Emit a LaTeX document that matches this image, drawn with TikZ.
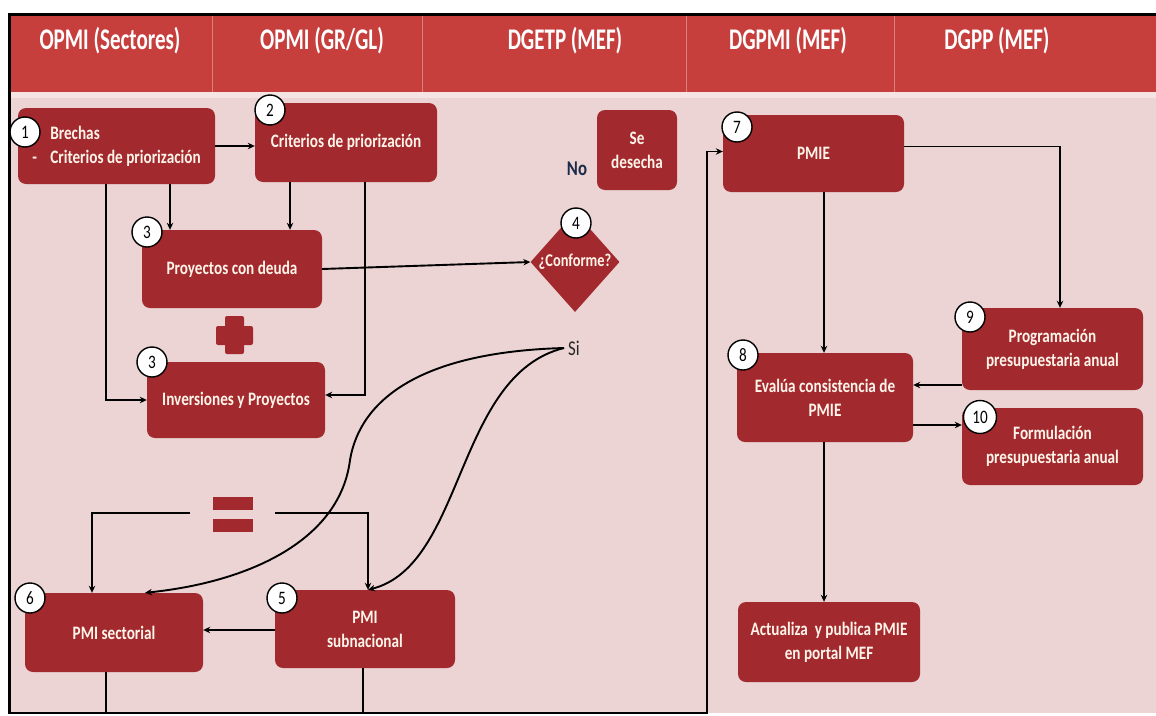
\documentclass[tikz,border=0pt]{standalone}
\usepackage{fontspec}
\setmainfont{Carlito}[FakeStretch=0.8]
\newfontfamily\hdrfont{Carlito}[FakeStretch=0.7]
\usetikzlibrary{arrows.meta,shapes.geometric,calc}
\definecolor{hdr}{HTML}{C63F3D}
\definecolor{hdrline}{HTML}{D8807C}
\definecolor{bg}{HTML}{ECD4D5}
\definecolor{boxred}{HTML}{A2292D}
\definecolor{txt}{HTML}{FFF4EA}
\definecolor{strip}{HTML}{F4E4E4}
\definecolor{nolbl}{HTML}{1E2B48}
\begin{document}
\begin{tikzpicture}[x=1pt,y=-1pt,
 stepbox/.style={fill=boxred, rounded corners=8pt, text=txt, font=\bfseries\fontsize{19}{24}\selectfont, align=center, inner sep=0pt},
 num/.style={circle, draw=black, line width=1.4pt, fill=white, minimum size=30pt, inner sep=0pt, font=\fontsize{19}{19}\selectfont},
 conn/.style={line width=1.9pt, draw=black},
 arr/.style={conn, -{Stealth[length=7pt,width=6.5pt]}},
 hdrtxt/.style={text=white, font=\hdrfont\bfseries\fontsize{30}{30}\selectfont, inner sep=0pt},
]
\useasboundingbox (0,0) rectangle (1156,715);
\fill[white] (0,0) rectangle (1156,715);
\fill[hdr] (10,15) rectangle (1156,92);
\fill[strip] (10,92) rectangle (1156,98);
\fill[bg] (10,98) rectangle (1156,713);
\foreach \x in {212,422,686,894} \draw[hdrline, line width=1pt] (\x,16) -- (\x,92);
\draw[line width=3.5pt] (1156,14.5) -- (9.5,14.5) -- (9.5,713);
\draw[line width=2pt] (8,713) -- (106,713);

% header
\node[hdrtxt] (h1) at (110,41) {OPMI (Sectores)};
\node[hdrtxt] (h2) at (322,41) {OPMI (GR/GL)};
\node[hdrtxt] (h3) at (565,41) {DGETP (MEF)};
\node[hdrtxt] (h4) at (788,41) {DGPMI (MEF)};
\node[hdrtxt] (h5) at (997,41) {DGPP (MEF)};

% coordinates for connector columns/rows
\coordinate (xA) at (106,0);
\coordinate (xB) at (170,0);
\coordinate (xC) at (290,0);
\coordinate (xD) at (365,0);
\coordinate (xE) at (1060,0);
\coordinate (xF) at (824,0);
\coordinate (xJ) at (92,0);
\coordinate (xK) at (368,0);
\coordinate (xL) at (363,0);
\coordinate (yG) at (0,385);
\coordinate (yH) at (0,425);
\coordinate (yI) at (0,630);
\coordinate (yT) at (0,146);
\coordinate (bot) at (707,713);
\coordinate (eqL) at (190,513);
\coordinate (eqR) at (275,513);

% boxes
\node[stepbox, align=left, minimum width=197pt, minimum height=76pt] (n1) at (116.5,146)
  {\hspace*{18pt}Brechas\\\makebox[18pt][l]{-}Criterios de priorización};
\node[stepbox, minimum width=182pt, minimum height=79pt] (n2) at (346,142.5) {Criterios de priorización};
\node[stepbox, minimum width=180pt, minimum height=78pt] (n3a) at (232,269) {Proyectos con deuda};
\node[stepbox, minimum width=178pt, minimum height=76pt] (n3b) at (236,400) {Inversiones y Proyectos};
\node[stepbox, minimum width=80pt, minimum height=80pt] (nd) at (637,150) {Se\\desecha};
\node[diamond, fill=boxred, minimum width=89pt, minimum height=100pt, inner sep=0pt] (d4) at (575,262) {};
\node[text=txt, font=\bfseries\fontsize{18}{18}\selectfont, inner sep=0pt] (d4t) at (d4.center) {¿Conforme?};
\node[stepbox, minimum width=181pt, minimum height=77pt] (n7) at (813.5,153.5) {PMIE};
\node[stepbox, minimum width=176pt, minimum height=89pt] (n8) at (825,397.5) {Evalúa consistencia de\\PMIE};
\node[stepbox, minimum width=181pt, minimum height=82pt] (n9) at (1052.5,349) {Programación\\presupuestaria anual};
\node[stepbox, minimum width=181pt, minimum height=77pt] (n10) at (1052.5,446.5) {Formulación\\presupuestaria anual};
\node[stepbox, minimum width=182pt, minimum height=80pt] (nA) at (829,642) {Actualiza~ y publica PMIE\\en portal MEF};
\node[stepbox, minimum width=180pt, minimum height=78pt] (n5) at (365,629) {PMI\\subnacional};
\node[stepbox, minimum width=178pt, minimum height=79pt] (n6) at (114,632.5) {PMI sectorial};

% plus and equals signs
\fill[boxred, rounded corners=2pt] (225,316) rectangle (244,354);
\fill[boxred, rounded corners=2pt] (216,326) rectangle (253,345);
\fill[boxred] (213,497) rectangle (253,510);
\fill[boxred] (213,519) rectangle (253,532);

% labels
\node[text=nolbl, font=\bfseries\fontsize{21}{21}\selectfont, inner sep=0pt] (no) at (577,169) {No};
\node[text=black!85, font=\fontsize{21}{21}\selectfont, inner sep=4pt, anchor=west] (si) at (564,348) {Si};

% connectors
\draw[arr] (n1.east |- yT) -- (n2.west |- yT);
\draw[arr] (n1.south -| xB) -- (n3a.north -| xB);
\draw[arr] (n2.south -| xC) -- (n3a.north -| xC);
\draw[arr] (n1.south -| xA) |- (n3b.west);
\draw[arr] (n2.south -| xD) |- ([yshift=5pt]n3b.east);
\draw[arr] (n3a.east) -- (d4.west);
\draw[arr] ([yshift=7pt]n7.east) -| (n9.north -| xE);
\draw[arr] (n7.south -| xF) -- (n8.north -| xF);
\draw[arr] (n9.west |- yG) -- (n8.east |- yG);
\draw[arr] (n8.east |- yH) -- (n10.west |- yH);
\draw[arr] (n8.south -| xF) -- (nA.north -| xF);
\draw[arr] (n5.west |- yI) -- (n6.east |- yI);
\draw[arr] (eqL) -| (n6.north -| xJ);
\draw[arr] (eqR) -| (n5.north -| xK);
\draw[arr] (si.west) .. controls (420,352) and (360,400) .. (350,460)
   .. controls (340,540) and (250,582) .. ([xshift=31pt]n6.north);
\draw[arr] (si.west) .. controls (455,375) and (465,565) .. (n5.north -| xK);
\draw[arr] (n6.south -| xA) |- (bot) |- ([yshift=2pt]n7.west);
\draw[conn] (n5.south -| xL) -- (xL |- bot);

% number circles
\node[num] (c1) at (25,132) {1};
\node[num] (c2) at (270,110) {2};
\node[num] (c3a) at (147,232) {3};
\node[num] (c3b) at (152,362) {3};
\node[num] (c4) at (576,223) {4};
\node[num] (c5) at (282,598) {5};
\node[num] (c6) at (30,598) {6};
\node[num] (c7) at (737,127) {7};
\node[num] (c8) at (743,355) {8};
\node[num] (c9) at (970,317) {9};
\node[num, minimum size=33pt] (c10) at (980,417) {10};
\end{tikzpicture}
\end{document}
